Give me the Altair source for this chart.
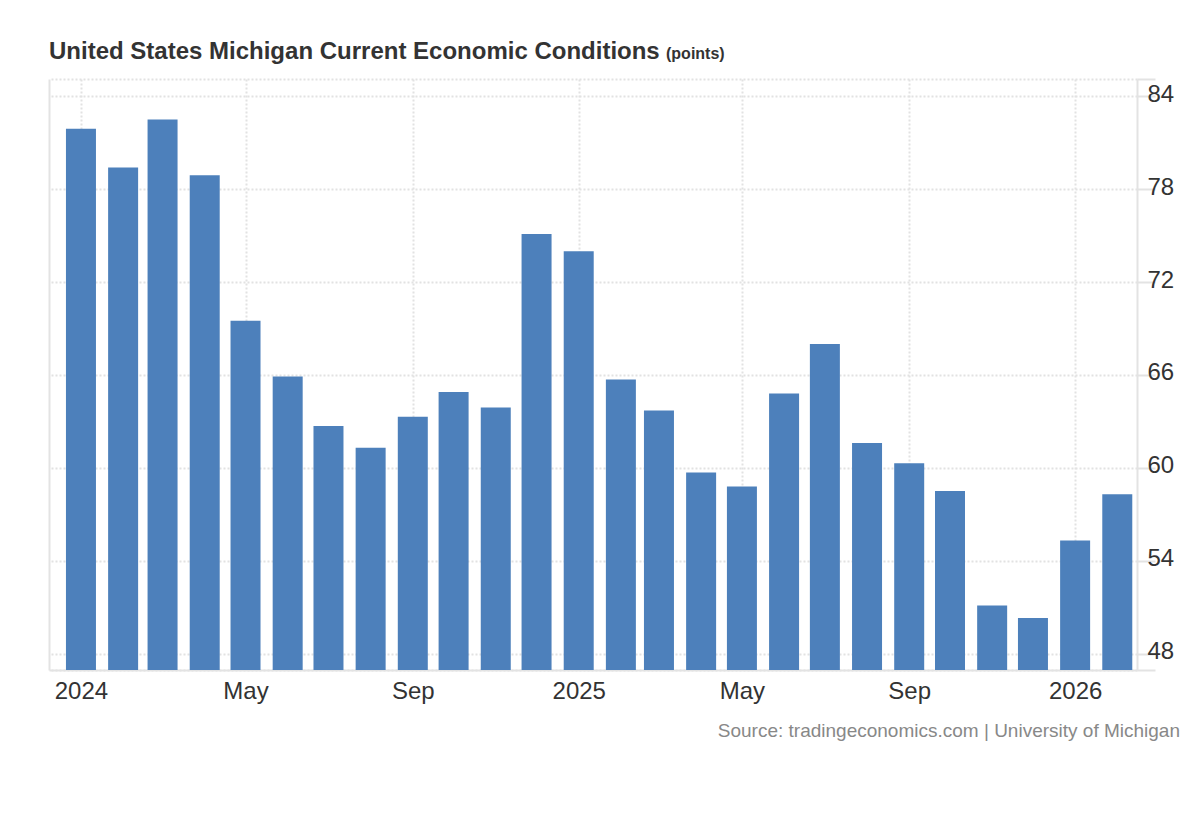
import altair as alt
import pandas as pd

# ---- data ----
months = [
    "2024-01-01", "2024-02-01", "2024-03-01", "2024-04-01", "2024-05-01", "2024-06-01",
    "2024-07-01", "2024-08-01", "2024-09-01", "2024-10-01", "2024-11-01", "2024-12-01",
    "2025-01-01", "2025-02-01", "2025-03-01", "2025-04-01", "2025-05-01", "2025-06-01",
    "2025-07-01", "2025-08-01", "2025-09-01", "2025-10-01", "2025-11-01", "2025-12-01",
    "2026-01-01", "2026-02-01",
]
values = [
    81.9, 79.4, 82.5, 78.9, 69.5, 65.9,
    62.7, 61.3, 63.3, 64.9, 63.9, 75.1,
    74.0, 65.7, 63.7, 59.7, 58.8, 64.8,
    68.0, 61.6, 60.3, 58.5, 51.1, 50.3,
    55.3, 58.3,
]
x_tick_dates = ["2024-01-01", "2024-05-01", "2024-09-01", "2025-01-01",
                "2025-05-01", "2025-09-01", "2026-01-01"]
y_domain = [46.94, 85.12]
y_ticks = [46.94, 48, 54, 60, 66, 72, 78, 84, 85.12]
x_domain = [(2023, 12, 8, 12), (2026, 2, 15, 12)]

title_text = "United States Michigan Current Economic Conditions"
unit_text = "(points)"
source_text = "Source: tradingeconomics.com | University of Michigan"

# ---- build ----
df = pd.DataFrame({"date": months, "value": values})


def dt(s):
    y, m, d = (int(p) for p in s.split("-"))
    return alt.DateTime(year=y, month=m, date=d, utc=True)


x_vals = [dt(s) for s in x_tick_dates]
x_dom = [alt.DateTime(year=y, month=m, date=d, hours=h, utc=True) for (y, m, d, h) in x_domain]

W, H = 1088, 591
FONT = "Liberation Sans"
GRID = "#e2e2e2"
LINE = "#e3e3e3"
BAR = "#4d80bb"

base = alt.Chart(df)

bars = base.mark_bar(size=30, color=BAR).encode(
    x=alt.X(
        "date:T",
        scale=alt.Scale(type="utc", domain=x_dom, padding=0),
        axis=alt.Axis(
            values=x_vals,
            labelExpr="utcmonth(datum.value) == 0 ? utcFormat(datum.value, '%Y') : utcFormat(datum.value, '%b')",
            grid=True, gridDash=[2, 2], gridColor=GRID, gridWidth=2,
            ticks=False, domainColor=LINE, domainWidth=2,
            labelFontSize=24, labelColor="#333333", labelFont=FONT,
            labelPadding=9, labelFlush=False, labelOverlap=False, title=None,
        ),
    ),
    y=alt.Y(
        "value:Q",
        scale=alt.Scale(domain=y_domain, nice=False, zero=False, padding=0),
        axis=alt.Axis(
            orient="right", values=y_ticks,
            labelExpr="datum.value % 6 == 0 ? datum.label : ''",
            grid=True, gridDash=[2, 2], gridColor=GRID, gridWidth=2,
            tickSize=18, tickColor=LINE, tickWidth=2,
            domainColor=LINE, domainWidth=2,
            labelFontSize=24, labelColor="#333333", labelFont=FONT,
            labelPadding=-8, labelOffset=-2, title=None,
        ),
    ),
    y2=alt.datum(y_domain[0]),
)

left_axis = base.mark_rule(opacity=0).encode(
    y=alt.Y(
        "value:Q",
        scale=alt.Scale(domain=y_domain, nice=False, zero=False, padding=0),
        axis=alt.Axis(orient="left", labels=False, ticks=False, grid=False,
                      domainColor=LINE, domainWidth=2, title=None),
    ),
)

title = alt.Chart(pd.DataFrame({"t": [title_text]})).mark_text(
    align="left", baseline="alphabetic", fontSize=24, fontWeight="bold",
    font=FONT, color="#333333",
).encode(x=alt.value(0), y=alt.value(-20), text="t:N")

unit = alt.Chart(pd.DataFrame({"t": [unit_text]})).mark_text(
    align="left", baseline="alphabetic", fontSize=16, fontWeight="bold",
    font=FONT, color="#333333",
).encode(x=alt.value(617), y=alt.value(-20), text="t:N")

source = alt.Chart(pd.DataFrame({"t": [source_text]})).mark_text(
    align="right", baseline="alphabetic", fontSize=19, font=FONT, color="#888888",
).encode(x=alt.value(1131), y=alt.value(658), text="t:N")

chart = (
    alt.layer(bars, left_axis, title, unit, source)
    .resolve_axis(y="independent")
    .properties(
        width=W, height=H,
        autosize=alt.AutoSizeParams(type="none"),
        padding={"left": 41, "top": 71, "right": 50, "bottom": 90},
    )
    .configure_view(stroke=None)
)

chart.save("out.html", embed_options={"renderer": "svg", "actions": False})
